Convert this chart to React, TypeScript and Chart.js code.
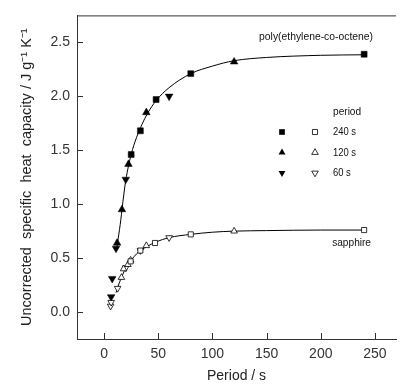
import React, { useEffect, useRef } from "react";
import { Chart, registerables } from "chart.js";

Chart.register(...registerables);

// ---- data ----
const polyX240 = [25, 33.5, 48, 80, 240];
const polyY240 = [1.46, 1.68, 1.97, 2.21, 2.39];
const polyX120 = [12, 16.5, 22.5, 39, 120];
const polyY120 = [0.64, 0.95, 1.37, 1.85, 2.32];
const polyX60 = [6.5, 7.5, 11, 20, 60];
const polyY60 = [0.14, 0.31, 0.59, 1.23, 2.0];

const sapX240 = [24.5, 33.5, 47, 80, 240];
const sapY240 = [0.47, 0.57, 0.64, 0.72, 0.76];
const sapX120 = [16, 18, 22, 24.5, 39, 120];
const sapY120 = [0.32, 0.4, 0.44, 0.48, 0.615, 0.75];
const sapX60 = [6, 6.5, 12.5, 20, 33.5, 60];
const sapY60 = [0.055, 0.09, 0.22, 0.41, 0.57, 0.69];

const polyCurveX = [11.5, 13, 15.5, 16.5, 20, 25, 30, 35, 40, 48, 60, 80, 100, 120, 150, 200, 240];
const polyCurveY = [0.58, 0.68, 0.86, 0.95, 1.22, 1.46, 1.62, 1.74, 1.84, 1.96, 2.08, 2.21, 2.28, 2.33, 2.36, 2.38, 2.385];
const sapCurveX = [11, 14, 16.5, 20, 25, 30, 35, 40, 48, 60, 80, 100, 120, 150, 200, 240];
const sapCurveY = [0.18, 0.27, 0.33, 0.41, 0.48, 0.54, 0.58, 0.61, 0.65, 0.69, 0.72, 0.74, 0.75, 0.755, 0.76, 0.76];

const xTicks = [0, 50, 100, 150, 200, 250];
const yTicks = [0, 0.5, 1, 1.5, 2, 2.5];
const legendRows = ["240 s", "120 s", "60 s"];

const xy = (xs: number[], ys: number[]) => xs.map((x, i) => ({ x, y: ys[i] }));

const NARROW = "'Liberation Sans', Arial, sans-serif";

function drawMarker(ctx: CanvasRenderingContext2D, kind: string, x: number, y: number, filled: boolean, r: number) {
  ctx.beginPath();
  if (kind === "square") {
    const s = r * Math.SQRT1_2;
    ctx.rect(x - s, y - s, 2 * s, 2 * s);
  } else {
    const dir = kind === "up" ? 1 : -1;
    const h = r * 1.5;
    ctx.moveTo(x, y - dir * r);
    ctx.lineTo(x + (Math.sqrt(3) / 2) * r, y - dir * (r - h));
    ctx.lineTo(x - (Math.sqrt(3) / 2) * r, y - dir * (r - h));
    ctx.closePath();
  }
  if (filled) {
    ctx.fillStyle = "#000";
    ctx.fill();
  } else {
    ctx.fillStyle = "#fff";
    ctx.fill();
    ctx.strokeStyle = "#000";
    ctx.lineWidth = 0.8;
    ctx.stroke();
  }
}

function narrowText(ctx: CanvasRenderingContext2D, text: string, x: number, y: number, align: "left" | "right", sx: number) {
  ctx.save();
  ctx.translate(x, y);
  ctx.scale(sx, 1);
  ctx.textAlign = align;
  ctx.fillText(text, 0, 0);
  ctx.restore();
}

const decorPlugin = {
  id: "decor",
  afterDraw(chart: any) {
    const { ctx, chartArea } = chart;
    const xs = chart.scales.x;
    const ys = chart.scales.y;
    ctx.save();
    ctx.strokeStyle = "#333";
    ctx.lineWidth = 1;
    // top frame line
    ctx.beginPath();
    ctx.moveTo(chartArea.left, chartArea.top + 0.5);
    ctx.lineTo(chartArea.right, chartArea.top + 0.5);
    ctx.stroke();
    // inward ticks
    ctx.beginPath();
    xTicks.forEach((v) => {
      const px = Math.round(xs.getPixelForValue(v)) + 0.5;
      ctx.moveTo(px, chartArea.bottom);
      ctx.lineTo(px, chartArea.bottom - 6);
    });
    yTicks.forEach((v) => {
      const py = Math.round(ys.getPixelForValue(v)) + 0.5;
      ctx.moveTo(chartArea.left, py);
      ctx.lineTo(chartArea.left + 6, py);
    });
    ctx.stroke();

    // annotations
    ctx.fillStyle = "#111";
    ctx.textBaseline = "middle";
    ctx.font = `11.5px ${NARROW}`;
    narrowText(ctx, "poly(ethylene-co-octene)", 373, 37, "right", 0.9);
    narrowText(ctx, "sapphire", 371, 243, "right", 0.88);
    narrowText(ctx, "period", 333, 112, "left", 0.88);
    const kinds = ["square", "up", "down"];
    legendRows.forEach((t, i) => {
      const y = 132 + i * 20.5;
      ctx.fillStyle = "#111";
      narrowText(ctx, t, 333, y, "left", 0.82);
      drawMarker(ctx, kinds[i], 282, y, true, 4);
      drawMarker(ctx, kinds[i], 315, y, false, kinds[i] === "square" ? 3.6 : 3.8);
    });
    ctx.restore();
  },
};

export default function App() {
  const ref = useRef<HTMLCanvasElement | null>(null);
  useEffect(() => {
    document.body.style.margin = "0";
    const canvas = ref.current!;
    const lineDs = (xs: number[], ys: number[]) => ({
      type: "line" as const,
      data: xy(xs, ys),
      borderColor: "#000",
      borderWidth: 1,
      pointRadius: 0,
      cubicInterpolationMode: "monotone" as const,
      fill: false,
      order: 10,
    });
    const ptDs = (xs: number[], ys: number[], style: string, rot: number, filled: boolean, r: number) => ({
      type: "scatter" as const,
      data: xy(xs, ys),
      pointStyle: style,
      rotation: rot,
      pointRadius: r,
      backgroundColor: filled ? "#000" : "#fff",
      borderColor: "#000",
      borderWidth: filled ? 0.5 : 0.8,
      showLine: false,
      order: 1,
    });
    const chart = new Chart(canvas, {
      type: "scatter",
      data: {
        datasets: [
          lineDs(polyCurveX, polyCurveY),
          lineDs(sapCurveX, sapCurveY),
          ptDs(sapX240, sapY240, "rect", 0, false, 3.6),
          ptDs(sapX120, sapY120, "triangle", 0, false, 3.8),
          ptDs(sapX60, sapY60, "triangle", 180, false, 3.8),
          ptDs(polyX240, polyY240, "rect", 0, true, 4.2),
          ptDs(polyX120, polyY120, "triangle", 0, true, 4.4),
          ptDs(polyX60, polyY60, "triangle", 180, true, 4.4),
        ] as any,
      },
      options: {
        responsive: false,
        animation: false,
        events: [],
        layout: { padding: { top: 13, right: 0, left: 0, bottom: 0 } },
        plugins: { legend: { display: false }, tooltip: { enabled: false } },
        scales: {
          x: {
            type: "linear",
            min: -25,
            max: 269.5,
            afterBuildTicks: (s: any) => {
              s.ticks = xTicks.map((v) => ({ value: v }));
            },
            afterFit: (s: any) => {
              s.height = 46;
            },
            grid: { display: false, drawTicks: false },
            border: { display: true, color: "#333", width: 1 },
            ticks: {
              padding: 7,
              color: "#333",
              font: { family: "'Liberation Sans', Arial, sans-serif", size: 14 },
              maxRotation: 0,
            },
            title: {
              display: true,
              text: "Period / s",
              color: "#222",
              font: { family: "'Liberation Sans', Arial, sans-serif", size: 14 },
              padding: { top: 0, bottom: 0 },
            },
          },
          y: {
            type: "linear",
            min: -0.25,
            max: 2.75,
            afterBuildTicks: (s: any) => {
              s.ticks = yTicks.map((v) => ({ value: v }));
            },
            afterFit: (s: any) => {
              s.width = 77;
            },
            grid: { display: false, drawTicks: false },
            border: { display: true, color: "#333", width: 1 },
            ticks: {
              padding: 7,
              color: "#333",
              font: { family: "'Liberation Sans', Arial, sans-serif", size: 14 },
              callback: (v: any) => Number(v).toFixed(1),
            },
            title: {
              display: true,
              text: "Uncorrected  specific  heat  capacity / J g\u207B\u00B9 K\u207B\u00B9",
              color: "#222",
              font: { family: "'Liberation Sans', Arial, sans-serif", size: 14.5 },
              padding: { top: 18, bottom: 0 },
            },
          },
        },
      },
      plugins: [decorPlugin],
    });
    return () => chart.destroy();
  }, []);
  return (
    <div style={{ width: 401, height: 385, position: "relative" }}>
      <canvas ref={ref} width={401} height={385} style={{ display: "block" }} />
    </div>
  );
}
